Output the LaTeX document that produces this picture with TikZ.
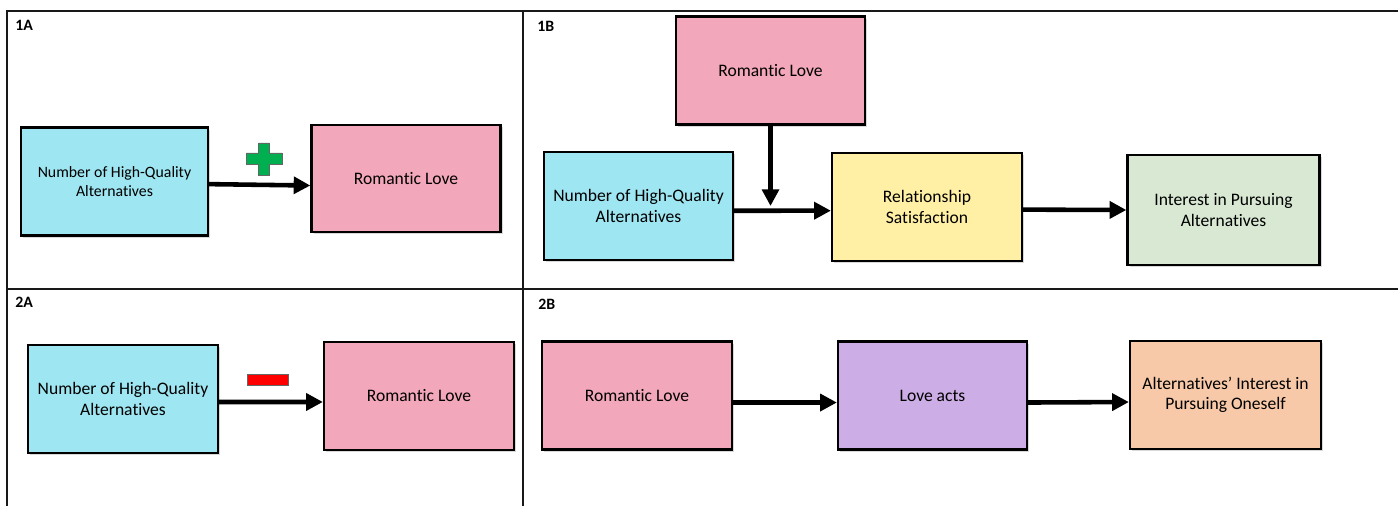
\documentclass[tikz,border=0pt]{standalone}
\usepackage{fontspec}
\setmainfont[Ligatures=NoCommon]{Carlito}
\usetikzlibrary{arrows.meta,shadows}

\definecolor{altblue}{HTML}{9EE6F2}
\definecolor{lovepink}{HTML}{F2A7BA}
\definecolor{satyellow}{HTML}{FFF0A5}
\definecolor{intgreen}{HTML}{D8E8D2}
\definecolor{actpurple}{HTML}{CDADE6}
\definecolor{oneorange}{HTML}{F7C9A8}
\definecolor{plusgreen}{HTML}{00B050}

\begin{document}
\begin{tikzpicture}[x=0.02cm,y=-0.02cm,
  frame/.style={draw=black!90,line width=1.3pt},
  box/.style={draw=black,line width=1.3pt,align=center,inner sep=2pt,
    minimum width=3.78cm,minimum height=2.16cm,
    font=\fontsize{10}{11.5}\selectfont,
    drop shadow={shadow xshift=1.2pt,shadow yshift=-1.2pt,opacity=0.3}},
  link/.style={-{Triangle[length=9.5pt,width=9.5pt]},line width=2.6pt},
  panel/.style={anchor=west,inner sep=0pt,font=\bfseries\fontsize{9}{10}\selectfont}]
\useasboundingbox (0,0) rectangle (1398,506);

% panels
\draw[frame] (7,506) -- (7,11) -- (1398,11);
\draw[frame] (523,11) -- (523,506);
\draw[frame] (7,289) -- (1398,289);
\node[panel] (labA) at (15,25) {1A};
\node[panel] (labB) at (537,26) {1B};
\node[panel] (labC) at (15,302) {2A};
\node[panel] (labD) at (538,304) {2B};

% 1A
\node[box,fill=altblue,minimum width=3.74cm,font=\fontsize{9}{10.5}\selectfont] (numA) at (114.5,181.5) {Number of High-Quality\\Alternatives};
\node[box,fill=lovepink,minimum height=2.14cm] (loveA) at (406,178.5) {Romantic Love};
\draw[link] ([yshift=-1.5pt]numA.east) -- ([yshift=-4pt]loveA.west);
\filldraw[draw=black!60,fill=plusgreen,line width=0.4pt] (258.5,143) -- (269.5,143) -- (269.5,153) -- (282,153) -- (282,164) -- (269.5,164) -- (269.5,175) -- (258.5,175) -- (258.5,164) -- (246,164) -- (246,153) -- (258.5,153) -- cycle;

% 1B
\node[box,fill=lovepink] (loveB) at (770.5,70.5) {Romantic Love};
\node[box,fill=altblue] (numB) at (638.5,206) {Number of High-Quality\\Alternatives};
\node[box,fill=satyellow,minimum width=3.8cm] (satB) at (927,207) {Relationship\\Satisfaction};
\node[box,fill=intgreen,minimum width=3.84cm,minimum height=2.2cm] (intB) at (1223.5,210) {Interest in Pursuing\\Alternatives};
\coordinate (modB) at (770.5,206);
\draw[link] (loveB.south) -- (modB);
\draw[link] ([yshift=-2.7pt]numB.east) -- ([yshift=-2.1pt]satB.west);
\draw[link] ([yshift=-1.5pt]satB.east) -- (intB.west);

% 2A
\node[box,fill=altblue,minimum width=3.8cm] (numC) at (123,399) {Number of High-Quality\\Alternatives};
\node[box,fill=lovepink,minimum width=3.8cm] (loveC) at (419,396) {Romantic Love};
\draw[link] ([yshift=-1.7pt]numC.east) -- ([yshift=-3.4pt]loveC.west);
\filldraw[draw=black!60,fill=red,line width=0.4pt] (247,374) rectangle (288,385);

% 2B
\node[box,fill=lovepink,minimum width=3.8cm] (loveD) at (637,395.5) {Romantic Love};
\node[box,fill=actpurple] (actD) at (932.5,395.5) {Love acts};
\node[box,fill=oneorange,minimum width=3.82cm] (oneD) at (1225.5,395) {Alternatives’ Interest in\\Pursuing Oneself};
\draw[link] ([yshift=-4pt]loveD.east) -- ([yshift=-4pt]actD.west);
\draw[link] ([yshift=-4pt]actD.east) -- ([yshift=-4pt]oneD.west);

\end{tikzpicture}
\end{document}
